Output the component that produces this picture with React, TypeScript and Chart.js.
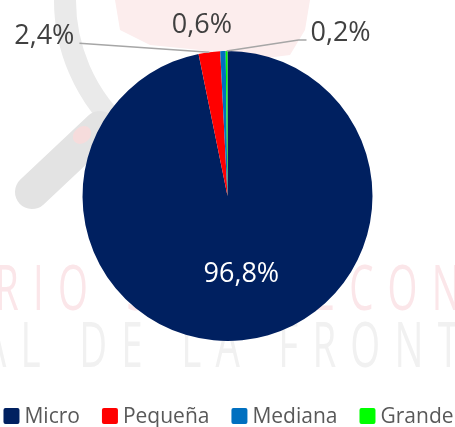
import React, { useEffect, useRef } from "react";
import { Chart, registerables } from "chart.js";

Chart.register(...registerables);

const categories = ["Micro", "Pequeña", "Mediana", "Grande"];
const shares = [96.8, 2.4, 0.6, 0.2];
const shareLabels = ["96,8%", "2,4%", "0,6%", "0,2%"];
const sliceColors = ["#002060", "#FF0000", "#0070C0", "#00FF00"];

const FONT = "'Open Sans', 'DejaVu Sans', sans-serif";

// label placement relative to the slice's outer mid point
const labelPlacement = [
  { inside: true, dx: 0, dy: 0, line: false },
  { inside: false, dx: -165, dy: -16, line: true, side: "right" },
  { inside: false, dx: -21, dy: -26, line: false },
  { inside: false, dx: 114, dy: -18, line: true, side: "left" },
];

const watermarkPlugin = {
  id: "watermark",
  beforeDraw(chart: any) {
    const ctx = chart.ctx as CanvasRenderingContext2D;
    ctx.save();
    // faint red map
    ctx.fillStyle = "#FCEDED";
    ctx.beginPath();
    ctx.moveTo(115, 0);
    ctx.lineTo(310, 0);
    ctx.lineTo(305, 30);
    ctx.lineTo(290, 55);
    ctx.lineTo(250, 60);
    ctx.lineTo(200, 50);
    ctx.lineTo(150, 45);
    ctx.lineTo(120, 30);
    ctx.closePath();
    ctx.fill();
    // magnifier ring
    ctx.strokeStyle = "#EAEAEA";
    ctx.lineWidth = 22;
    ctx.beginPath();
    ctx.arc(240, 0, 175, Math.PI * 0.72, Math.PI * 1.02);
    ctx.stroke();
    // handle
    ctx.lineCap = "round";
    ctx.strokeStyle = "#E3E3E3";
    ctx.lineWidth = 34;
    ctx.beginPath();
    ctx.moveTo(32, 192);
    ctx.lineTo(100, 128);
    ctx.stroke();
    ctx.fillStyle = "#F6DCDC";
    ctx.beginPath();
    ctx.ellipse(82, 135, 10, 8, -0.7, 0, Math.PI * 2);
    ctx.fill();
    // text
    ctx.font = `62px ${FONT}`;
    (ctx as any).letterSpacing = "23px";
    ctx.textBaseline = "alphabetic";
    ctx.save();
    ctx.translate(-5, 310);
    ctx.scale(0.62, 1);
    ctx.fillStyle = "#FBE6E9";
    ctx.fillText("RIO SOCIOECON", 0, 0);
    ctx.restore();
    ctx.save();
    ctx.translate(-18, 367);
    ctx.scale(0.62, 1);
    ctx.fillStyle = "#F1F1F1";
    ctx.fillText("AL DE LA FRONT", 0, 0);
    ctx.restore();
    ctx.restore();
  },
};

const labelsPlugin = {
  id: "sliceLabels",
  afterDraw(chart: any) {
    const ctx = chart.ctx as CanvasRenderingContext2D;
    const meta = chart.getDatasetMeta(0);
    ctx.save();
    ctx.font = `27px ${FONT}`;
    ctx.textAlign = "center";
    ctx.textBaseline = "middle";
    meta.data.forEach((arc: any, i: number) => {
      const p = labelPlacement[i];
      const mid = (arc.startAngle + arc.endAngle) / 2;
      const r = arc.outerRadius;
      if (p.inside) {
        const d = r * 0.54;
        ctx.fillStyle = "#FFFFFF";
        ctx.fillText(shareLabels[i], arc.x + Math.cos(mid) * d + 6, arc.y + Math.sin(mid) * d);
        return;
      }
      const ax = arc.x + Math.cos(mid) * r;
      const ay = arc.y + Math.sin(mid) * r;
      const lx = ax + p.dx;
      const ly = ay + p.dy;
      const w = ctx.measureText(shareLabels[i]).width;
      if (p.line) {
        ctx.strokeStyle = "#A6A6A6";
        ctx.lineWidth = 1.5;
        ctx.beginPath();
        if (p.side === "right") {
          ctx.moveTo(lx + w / 2 + 5, ly + 7);
          ctx.lineTo(ax, ay);
        } else {
          ctx.moveTo(lx - w / 2 - 4, ly + 7);
          ctx.lineTo(lx - w / 2 - 12, ly + 7);
          ctx.lineTo(ax, ay);
        }
        ctx.stroke();
      }
      ctx.fillStyle = "#404040";
      ctx.fillText(shareLabels[i], lx, ly);
    });
    ctx.restore();
  },
};

const legendPlugin = {
  id: "customLegend",
  afterDraw(chart: any) {
    const ctx = chart.ctx as CanvasRenderingContext2D;
    ctx.save();
    ctx.font = `21px ${FONT}`;
    const box = 16;
    const gapBox = 5;
    const gapItem = 22;
    const widths = categories.map((c) => ctx.measureText(c).width);
    const total =
      widths.reduce((a, w) => a + box + gapBox + w, 0) + gapItem * (categories.length - 1);
    let x = chart.width / 2 - total / 2 + 1;
    const cy = 416;
    ctx.textBaseline = "middle";
    ctx.textAlign = "left";
    categories.forEach((c, i) => {
      ctx.fillStyle = sliceColors[i];
      ctx.beginPath();
      (ctx as any).roundRect(x, cy - box / 2, box, box, 2);
      ctx.fill();
      ctx.fillStyle = "#595959";
      ctx.fillText(c, x + box + gapBox, cy + 1);
      x += box + gapBox + widths[i] + gapItem;
    });
    ctx.restore();
  },
};

export default function App() {
  const ref = useRef<HTMLCanvasElement | null>(null);
  useEffect(() => {
    document.body.style.margin = "0";
    const canvas = ref.current!;
    const chart = new Chart(canvas, {
      type: "pie",
      data: {
        labels: categories,
        datasets: [
          {
            data: shares,
            backgroundColor: sliceColors,
            borderWidth: 0,
          },
        ],
      },
      options: {
        responsive: false,
        animation: false,
        layout: { padding: { top: 51, bottom: 86, left: 0, right: 0 } },
        plugins: {
          legend: { display: false },
          tooltip: { enabled: false },
        },
      },
      plugins: [watermarkPlugin, labelsPlugin, legendPlugin],
    });
    return () => chart.destroy();
  }, []);
  return (
    <div style={{ width: 455, height: 427, background: "#fff" }}>
      <canvas ref={ref} width={455} height={427} style={{ display: "block" }} />
    </div>
  );
}
